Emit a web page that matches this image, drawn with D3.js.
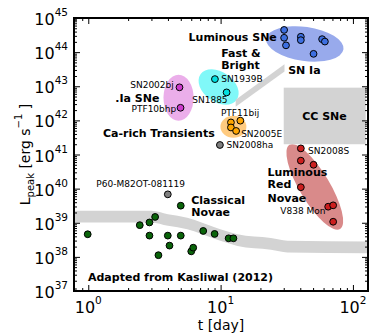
<!DOCTYPE html>
<meta charset="utf-8">
<style>
    body { margin: 0; background: #fff; }
    text { font-family: "DejaVu Sans", sans-serif; fill: #000; }
    .small { font-size: 9px; }
    .bold { font-size: 11px; font-weight: bold; }
    .tick line { stroke: #000; }
</style>
<body>
<script src="https://cdn.jsdelivr.net/npm/d3@7"></script>
<script>
var width = 374
var height = 336
var margin = { top: 18, right: 6, bottom: 45, left: 74 }

// [t (day), L_peak (erg/s)]
var luminousSNe = [[30.2, 4.47e44], [30.2, 2.63e44], [31.2, 1.58e44], [40.4, 2.82e44],
    [40.4, 2.24e44], [58.5, 2.40e44], [61.4, 2.04e44], [50.4, 8.9e43]]
var fastBright = [[9.06, 1.62e43], [11.1, 6.6e42]]
var dotIa = [[4.89, 9.3e42], [4.98, 2.34e42]]
var caRich = [[11.97, 8.7e41], [14.1, 9.8e41], [11.97, 6.2e41], [13.1, 4.9e41]]
var redNovae = [[40.4, 1.51e41], [40.4, 6.6e40], [50.4, 5.0e40], [40.4, 1.10e40],
    [65.0, 2.95e39], [70.9, 3.24e39], [70.9, 1.07e39]]
var classicalNovae = [[0.99, 4.6e38], [2.45, 8.5e38], [2.90, 1.02e39], [3.20, 1.48e39],
    [2.90, 4.2e38], [3.39, 1.12e38], [3.99, 4.2e38], [4.11, 2.14e38], [5.00, 3.16e39],
    [5.00, 4.2e38], [6.00, 1.45e38], [6.21, 1.86e38], [7.39, 5.75e38], [9.01, 4.7e38],
    [11.5, 3.5e38], [12.5, 3.5e38]]
var oddOnes = [[9.88, 1.9e41], [3.99, 6.8e39]]   // SN2008ha, P60-M82OT-081119

// regions: centre t, centre L, half-axes in decades (x, y), tilt in degrees
var regions = [
    { t: 43.3, L: 1.74e44, dx: 0.295, dy: 0.50, tilt: 8, fill: '#98aaec' },
    { t: 9.66, L: 9.5e42, dx: 0.167, dy: 0.44, tilt: 35, fill: '#80f8f8' },
    { t: 4.81, L: 4.6e42, dx: 0.114, dy: 0.674, tilt: 0, fill: '#ebaeea' },
    { t: 12.5, L: 6.5e41, dx: 0.098, dy: 0.322, tilt: 0, fill: '#ffcb80' },
    { t: 51.5, L: 1.12e40, dx: 0.371, dy: 0.44, tilt: 59, fill: '#d98a8a' }
]
var ccSNe = { t0: 30, t1: 125, L0: 2.0e41, L1: 9.1e42 }
var fastBrightBand = [[13.0, 4.0e42], [30.4, 4.4e43], [30.4, 2.7e43], [13.0, 2.5e42]]
var novaBandT = [0.78, 3.0, 4.0, 5.6, 9.0, 13.4, 24, 32, 130]
var novaBandL = [1.51e39, 1.51e39, 1.20e39, 9.5e38, 5.0e38, 3.1e38, 2.4e38, 2.0e38, 1.9e38]

// [text, t, L, anchor, bold]
var labels = [
    ['Luminous SNe', 26.6, 2.82e44, 'end', true],
    ['Fast &', 10.1, 9.6e43, 'start', true],
    ['Bright', 10.1, 4.3e43, 'start', true],
    ['SN Ia', 32.4, 2.9e43, 'start', true],
    ['SN1939B', 10.1, 1.62e43, 'start', false],
    ['SN2002bj', 4.43, 1.1e43, 'end', false],
    ['.Ia SNe', 1.60, 4.6e42, 'start', true],
    ['SN1885', 11.3, 4.0e42, 'end', false],
    ['PTF10bhp', 4.62, 2.14e42, 'end', false],
    ['PTF11bij', 10.05, 1.62e42, 'start', false],
    ['CC SNe', 61.0, 1.35e42, 'middle', true],
    ['Ca-rich Transients', 1.29, 4.2e41, 'start', true],
    ['SN2005E', 14.3, 4.0e41, 'start', false],
    ['SN2008ha', 11.1, 1.9e41, 'start', false],
    ['SN2008S', 45.8, 1.29e41, 'start', false],
    ['Luminous', 22.6, 3.0e40, 'start', true],
    ['Red', 22.6, 1.35e40, 'start', true],
    ['Novae', 22.6, 5.4e39, 'start', true],
    ['V838 Mon', 62.1, 2.24e39, 'end', false],
    ['P60-M82OT-081119', 2.49, 1.35e40, 'middle', false],
    ['Classical', 6.0, 4.7e39, 'start', true],
    ['Novae', 6.0, 2.1e39, 'start', true],
    ['Adapted from Kasliwal (2012)', 0.995, 2.63e37, 'start', true]
]

var xMajor = [1, 10, 100]
var yMajor = d3.range(37, 46).map(function (e) { return Math.pow(10, e) })

var x = d3.scaleLog().domain([0.78, 130]).range([margin.left, width - margin.right])
var y = d3.scaleLog().domain([1e37, 1e45]).range([height - margin.bottom, margin.top])

function minors(scale, lo, hi) {
    var out = []
    for (var e = lo; e <= hi; e++) {
        for (var k = 2; k <= 9; k++) {
            var v = k * Math.pow(10, e)
            var d = scale.domain()
            if (v >= d[0] && v <= d[1]) out.push(v)
        }
    }
    return out
}
var xMinor = minors(x, -1, 2)
var yMinor = minors(y, 37, 44)

var svg = d3.select('body').append('svg')
    .attr('width', width)
    .attr('height', height)

svg.append('clipPath').attr('id', 'clip')
    .append('rect')
    .attr('x', margin.left).attr('y', margin.top)
    .attr('width', width - margin.left - margin.right)
    .attr('height', height - margin.top - margin.bottom)

var plot = svg.append('g').attr('clip-path', 'url(#clip)')

// shaded regions
plot.selectAll('.region')
    .data(regions)
    .enter().append('ellipse')
    .attr('class', 'region')
    .attr('rx', function (d) { return x(d.t * Math.pow(10, d.dx)) - x(d.t) })
    .attr('ry', function (d) { return y(d.L) - y(d.L * Math.pow(10, d.dy)) })
    .attr('transform', function (d) {
        return 'translate(' + x(d.t) + ',' + y(d.L) + ') rotate(' + d.tilt + ')'
    })
    .style('fill', function (d) { return d.fill })

plot.append('rect')
    .attr('x', x(ccSNe.t0)).attr('y', y(ccSNe.L1))
    .attr('width', x(ccSNe.t1) - x(ccSNe.t0))
    .attr('height', y(ccSNe.L0) - y(ccSNe.L1))
    .style('fill', '#d3d3d3')

plot.append('path')
    .datum(fastBrightBand)
    .attr('d', d3.line().x(function (d) { return x(d[0]) }).y(function (d) { return y(d[1]) }))
    .style('fill', '#d3d3d3')

var band = novaBandT.map(function (t, i) { return [t, novaBandL[i]] })
plot.append('path')
    .datum(band)
    .attr('d', d3.area()
        .curve(d3.curveMonotoneX)
        .x(function (d) { return x(d[0]) })
        .y0(function (d) { return y(d[1] / 1.48) })
        .y1(function (d) { return y(d[1] * 1.48) }))
    .style('fill', '#d3d3d3')

// points
function dots(data, color) {
    plot.append('g').selectAll('circle')
        .data(data)
        .enter().append('circle')
        .attr('cx', function (d) { return x(d[0]) })
        .attr('cy', function (d) { return y(d[1]) })
        .attr('r', 3.4)
        .style('fill', color)
        .style('stroke', '#000')
        .style('stroke-width', 1)
}
dots(luminousSNe, '#3d6fe0')
dots(fastBright, '#00e0e0')
dots(dotIa, '#cc3acc')
dots(caRich, '#ffa500')
dots(redNovae, '#cc1f1f')
dots(classicalNovae, '#0a640a')
dots(oddOnes, '#808080')

// labels
svg.append('g').selectAll('text')
    .data(labels)
    .enter().append('text')
    .attr('class', function (d) { return d[4] ? 'bold' : 'small' })
    .attr('x', function (d) { return x(d[1]) })
    .attr('y', function (d) { return y(d[2]) })
    .attr('dy', '0.36em')
    .attr('text-anchor', function (d) { return d[3] })
    .text(function (d) { return d[0] })

// axes, ticks inward on all four sides
var iw = width - margin.left - margin.right
var ih = height - margin.top - margin.bottom
function tickAxis(axis, vals, size, tr) {
    var g = svg.append('g').attr('transform', tr)
        .call(axis.tickValues(vals).tickSize(size).tickSizeOuter(0).tickFormat(''))
    g.select('.domain').remove()
}
var bottomT = 'translate(0,' + (height - margin.bottom) + ')'
var topT = 'translate(0,' + margin.top + ')'
var leftT = 'translate(' + margin.left + ',0)'
var rightT = 'translate(' + (width - margin.right) + ',0)'
tickAxis(d3.axisBottom(x), xMajor, -6, bottomT)
tickAxis(d3.axisBottom(x), xMinor, -3, bottomT)
tickAxis(d3.axisTop(x), xMajor, -6, topT)
tickAxis(d3.axisTop(x), xMinor, -3, topT)
tickAxis(d3.axisLeft(y), yMajor, -6, leftT)
tickAxis(d3.axisLeft(y), yMinor, -3, leftT)
tickAxis(d3.axisRight(y), yMajor, -6, rightT)
tickAxis(d3.axisRight(y), yMinor, -3, rightT)

svg.append('rect')
    .attr('x', margin.left).attr('y', margin.top)
    .attr('width', iw).attr('height', ih)
    .style('fill', 'none')
    .style('stroke', '#000')
    .style('stroke-width', 2)

function powText(sel) {
    sel.append('tspan').style('font-size', '16px').text('10')
    sel.append('tspan').style('font-size', '10.5px').attr('dy', -9)
        .text(function (d) { return Math.round(Math.log10(d)) })
}

svg.append('g').selectAll('text')
    .data(yMajor)
    .enter().append('text')
    .attr('x', margin.left - 6)
    .attr('y', function (d) { return y(d) + 7 })
    .attr('text-anchor', 'end')
    .call(powText)

svg.append('g').selectAll('text')
    .data(xMajor)
    .enter().append('text')
    .attr('x', function (d) { return x(d) })
    .attr('y', height - margin.bottom + 22)
    .attr('text-anchor', 'middle')
    .call(powText)

svg.append('text')
    .attr('x', (margin.left + width - margin.right) / 2)
    .attr('y', height - 6)
    .attr('text-anchor', 'middle')
    .style('font-size', '14px')
    .text('t [day]')

var ylab = svg.append('text')
    .attr('transform', 'translate(30,' + (margin.top + ih / 2) + ') rotate(-90)')
    .attr('text-anchor', 'middle')
    .style('font-size', '14px')
ylab.append('tspan').text('L')
ylab.append('tspan').style('font-size', '10px').attr('dy', 4).text('peak')
ylab.append('tspan').attr('dy', -4).text(' [erg s')
ylab.append('tspan').style('font-size', '10px').attr('dy', -8).text('\u22121')
ylab.append('tspan').attr('dy', 8).text(' ]')
</script>
</body>
